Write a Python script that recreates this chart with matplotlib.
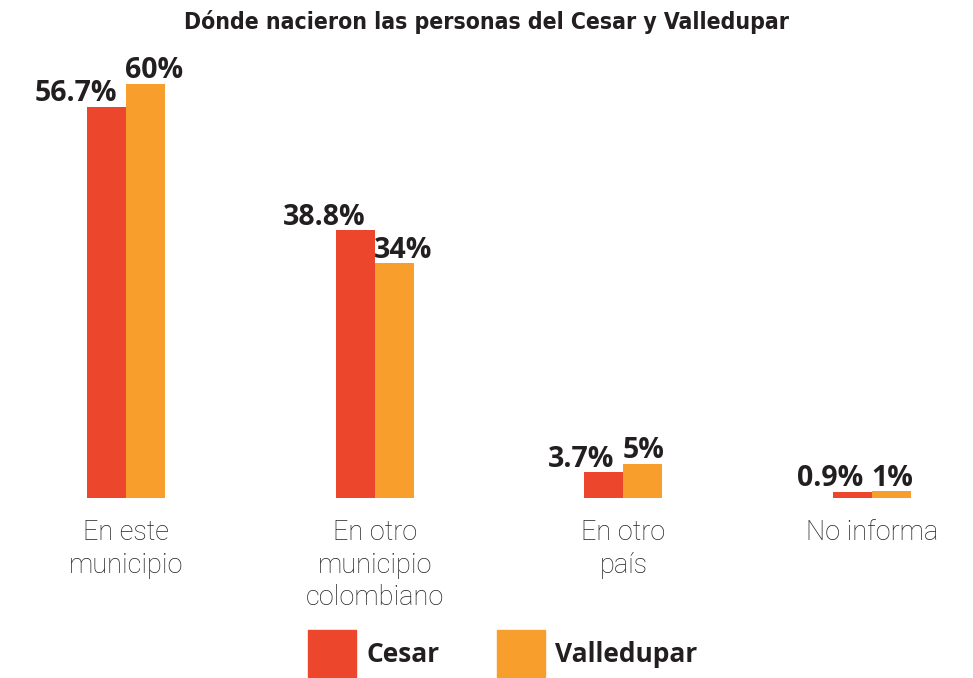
import numpy as np
import matplotlib.pyplot as plt
from matplotlib.patches import Rectangle

categories = ["En este\nmunicipio", "En otro\nmunicipio\ncolombiano", "En otro\npaís", "No informa"]
cesar = [56.7, 38.8, 3.7, 0.9]
valledupar = [60, 34, 5, 1]
cesar_labels = ["56.7%", "38.8%", "3.7%", "0.9%"]
valle_labels = ["60%", "34%", "5%", "1%"]
series_names = ["Cesar", "Valledupar"]

red = "#EC462D"
orange = "#F89E2C"
dark = "#231f20"

fig = plt.figure(figsize=(9.73, 6.78), dpi=100)
# axes placed so the baseline sits at ~180px from the bottom
ax = fig.add_axes([0, 180/678, 1, 498/678])
x = np.arange(len(categories))
w = 0.157
ax.bar(x - w/2, cesar, w, color=red)
ax.bar(x + w/2, valledupar, w, color=orange)
ax.set_xlim(-126/248.7, (973-126)/248.7)
ax.set_ylim(0, 498/6.9)
ax.axis("off")

for i in range(len(categories)):
    ax.annotate(cesar_labels[i], (x[i] - 0.035, cesar[i]), xytext=(0, 4), textcoords="offset points",
                ha="right", va="baseline", fontsize=20.5, fontweight="bold", color=dark,
                family="Open Sans")
    ax.annotate(valle_labels[i], (x[i] - 0.005, valledupar[i]), xytext=(0, 4), textcoords="offset points",
                ha="left", va="baseline", fontsize=20.5, fontweight="bold", color=dark,
                family="Open Sans")
    ax.text(x[i], -3.0, categories[i], ha="center", va="top", fontsize=19.5,
            fontweight="light", color="#222222", family="Roboto", linespacing=1.28)

fig.text(0.5, 1 - 22/678, "Dónde nacieron las personas del Cesar y Valledupar", ha="center", va="center",
         fontsize=16.5, fontweight="bold", color=dark, family="DejaVu Sans", fontstretch="condensed")

# legend drawn by hand to match the big squares
legend_items = [(308, red, series_names[0]), (497, orange, series_names[1])]
for px, col, name in legend_items:
    fig.patches.append(Rectangle((px/973, 1/678), 48/973, 47/678, transform=fig.transFigure,
                                 color=col))
    fig.text((px + 58)/973, 23/678, name, ha="left", va="center", fontsize=19,
             fontweight="bold", color=dark, family="Open Sans")

fig.savefig("out.png", dpi=100)
